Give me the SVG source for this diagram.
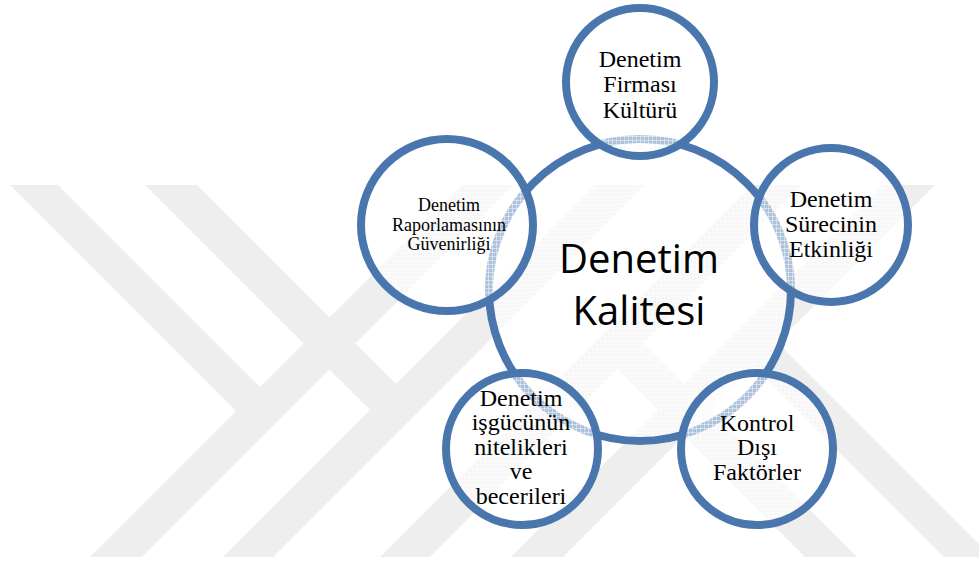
<svg xmlns="http://www.w3.org/2000/svg" width="979" height="561" viewBox="0 0 979 561">
  <style>
    .ring { fill: url(#veil); stroke: #4a76ae; stroke-width: 8; }
    .lbl { font-family: "Liberation Serif", "Times New Roman", serif; font-size: 24px; fill: #000; text-anchor: middle; }
    .lbl-sm { font-size: 18px; }
    .hub-lbl { font-family: "Open Sans", "Noto Sans", sans-serif; font-size: 40px; fill: #000; text-anchor: middle; }
    .wm { fill: #eeeeee; }
  </style>
  <defs>
    <!-- translucent white veil with a fine grid, used as the circle fill -->
    <pattern id="veil" width="4" height="4" patternUnits="userSpaceOnUse">
      <rect width="4" height="4" fill="#ffffff" fill-opacity="0.55"/>
      <path d="M0 0.5H4M0.5 0V4" stroke="#ffffff" stroke-opacity="0.45" stroke-width="1"/>
    </pattern>
    <clipPath id="wm-clip">
      <rect x="0" y="185" width="979" height="372"/>
    </clipPath>
  </defs>

  <rect width="979" height="561" fill="#ffffff"/>

  <!-- background emblem: diagonal grey bands -->
  <g id="watermark" clip-path="url(#wm-clip)">
    <polygon class="wm" points="462,185 514,185 142,557 90,557"/>
    <polygon class="wm" points="595,185 645,185 273,557 223,557"/>
    <polygon class="wm" points="752,185 802,185 430,557 380,557"/>
    <polygon class="wm" points="883,185 935,185 563,557 511,557"/>
    <polygon class="wm" points="10,185 58,185 266.5,393.5 242.5,417.5"/>
    <polygon class="wm" points="145,185 197,185 401,389 375,415"/>
    <polygon class="wm" points="631.5,331.5 857,557 805,557 605.5,357.5"/>
    <polygon class="wm" points="765.5,330.5 992,557 944,557 741.5,354.5"/>
  </g>

  <!-- central hub -->
  <g id="hub">
    <circle class="ring" cx="640" cy="290" r="151"/>
    <text class="hub-lbl" x="639" y="273">Denetim</text>
    <text class="hub-lbl" x="639" y="325">Kalitesi</text>
  </g>

  <g id="node-firma">
    <circle class="ring" cx="640" cy="82" r="74"/>
    <text class="lbl" x="640" y="67">Denetim</text>
    <text class="lbl" x="640" y="92">Firması</text>
    <text class="lbl" x="640" y="118">Kültürü</text>
  </g>

  <g id="node-surec">
    <circle class="ring" cx="831" cy="225" r="77"/>
    <text class="lbl" x="831" y="207">Denetim</text>
    <text class="lbl" x="831" y="232">Sürecinin</text>
    <text class="lbl" x="831" y="257">Etkinliği</text>
  </g>

  <g id="node-kontrol">
    <circle class="ring" cx="757" cy="449" r="76"/>
    <text class="lbl" x="757" y="431">Kontrol</text>
    <text class="lbl" x="757" y="455">Dışı</text>
    <text class="lbl" x="757" y="480">Faktörler</text>
  </g>

  <g id="node-isgucu">
    <circle class="ring" cx="522" cy="449" r="76"/>
    <text class="lbl" x="521" y="406">Denetim</text>
    <text class="lbl" x="521" y="430">işgücünün</text>
    <text class="lbl" x="521" y="455">nitelikleri</text>
    <text class="lbl" x="521" y="479">ve</text>
    <text class="lbl" x="521" y="504">becerileri</text>
  </g>

  <g id="node-raporlama">
    <circle class="ring" cx="447" cy="225" r="86"/>
    <text class="lbl lbl-sm" x="449" y="211">Denetim</text>
    <text class="lbl lbl-sm" x="449" y="231">Raporlamasının</text>
    <text class="lbl lbl-sm" x="449" y="250">Güvenirliği</text>
  </g>
</svg>
